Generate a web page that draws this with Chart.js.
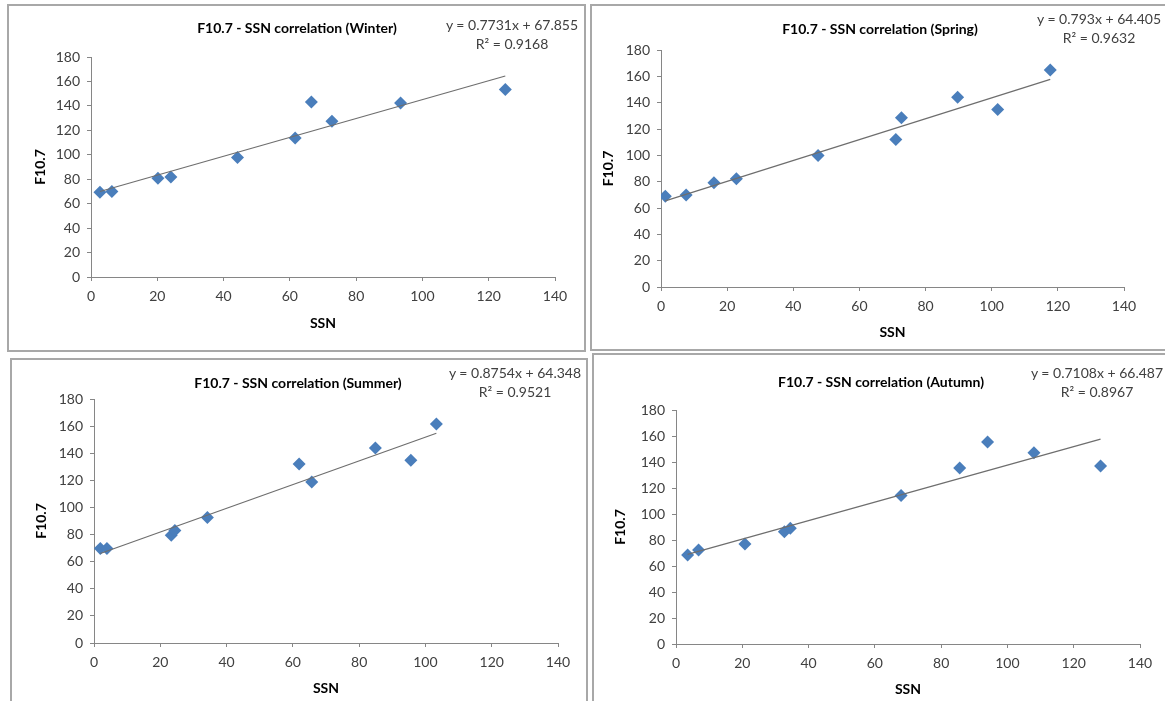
<!DOCTYPE html>
<html>
<head>
<meta charset="utf-8">
<script src="https://cdn.jsdelivr.net/npm/chart.js@4.4.1/dist/chart.umd.min.js"></script>
<style>
body { margin: 0; background: #fff; width: 1165px; height: 701px; overflow: hidden; position: relative; font-family: Lato, sans-serif; }
.frame { position: absolute; border: 2px solid #a8a8a8; box-sizing: border-box; }
canvas { position: absolute; }
.title { position: absolute; font-weight: bold; font-size: 14px; color: #000; transform: translate(-50%, -50%); white-space: nowrap; }
.eq { position: absolute; font-size: 14px; color: #404040; text-align: center; transform: translateX(-50%); white-space: nowrap; line-height: 19px; }
</style>
</head>
<body>
<script>
"use strict";

// values
const seasons = ["Winter", "Spring", "Summer", "Autumn"];

const winterSSN  = [2.7, 6.3, 20.2, 24.1, 44.2, 61.6, 66.5, 72.7, 93.4, 125.0];
const winterF107 = [69.4, 70.0, 80.7, 81.8, 97.8, 113.7, 143.2, 127.5, 142.4, 153.5];

const springSSN  = [1.3, 7.6, 16.0, 22.8, 47.5, 71.0, 72.7, 89.7, 101.8, 117.7];
const springF107 = [69.0, 69.8, 79.2, 82.3, 99.8, 112.0, 128.5, 144.2, 134.8, 164.8];

const summerSSN  = [1.9, 3.9, 23.3, 24.4, 34.2, 61.9, 65.7, 84.9, 95.6, 103.3];
const summerF107 = [69.8, 69.8, 79.5, 83.0, 92.6, 132.0, 118.8, 143.8, 134.9, 161.5];

const autumnSSN  = [3.5, 6.8, 20.8, 32.7, 34.5, 67.9, 85.6, 94.0, 108.0, 128.1];
const autumnF107 = [68.4, 72.4, 76.9, 86.4, 89.0, 114.2, 135.3, 155.3, 147.2, 137.0];

// trendline labels shown on the chart
const slopes = ["0.7731", "0.793", "0.8754", "0.7108"];
const intercepts = ["67.855", "64.405", "64.348", "66.487"];
const rSquared = ["0.9168", "0.9632", "0.9521", "0.8967"];

const xTicks = [0, 140, 20];   // min, max, step
const yTicks = [0, 180, 20];

// panel placement on the page
const panels = [
    { frame: [7, 4, 586, 352],    area: [91, 57, 555, 277],   yTitleX: 40,  xTitleY: 323, title: [297, 27],  eq: [512, 24] },
    { frame: [590, 4, 1172, 351], area: [661, 50, 1124, 287], yTitleX: 608, xTitleY: 332, title: [880, 28],  eq: [1099, 18] },
    { frame: [10, 358, 588, 712], area: [94, 399, 558, 643],  yTitleX: 41,  xTitleY: 688, title: [298, 382], eq: [515, 372] },
    { frame: [592, 353, 1172, 712], area: [676, 410, 1140, 644], yTitleX: 620, xTitleY: 689, title: [881, 381], eq: [1097, 372] }
];

const seriesX = [winterSSN, springSSN, summerSSN, autumnSSN];
const seriesY = [winterF107, springF107, summerF107, autumnF107];

const HALF_LINE = 8.4; // half of 14px * 1.2 line height

function addDiv(cls, text, x, y) {
    const d = document.createElement("div");
    d.className = cls;
    d.innerHTML = text;
    d.style.left = x + "px";
    d.style.top = y + "px";
    document.body.appendChild(d);
    return d;
}

function dibujarPanel(i) {
    const p = panels[i];
    const [fl, ft, fr, fb] = p.frame;
    const [al, at, ar, ab] = p.area;

    const frame = document.createElement("div");
    frame.className = "frame";
    frame.style.left = fl + "px";
    frame.style.top = ft + "px";
    frame.style.width = (fr - fl) + "px";
    frame.style.height = (fb - ft) + "px";
    document.body.appendChild(frame);

    const cl = fl + 2, ct = ft + 2;
    const cw = fr - fl - 4, ch = fb - ft - 4;
    const canvas = document.createElement("canvas");
    canvas.width = cw;
    canvas.height = ch;
    canvas.style.left = cl + "px";
    canvas.style.top = ct + "px";
    document.body.appendChild(canvas);

    const yW = al - p.yTitleX + HALF_LINE;
    const xH = p.xTitleY - ab + HALF_LINE;

    const xs = seriesX[i], ys = seriesY[i];
    const points = xs.map((x, k) => ({ x, y: ys[k] }));
    const m = parseFloat(slopes[i]), b = parseFloat(intercepts[i]);
    const x0 = Math.min(...xs), x1 = Math.max(...xs);
    const trend = [{ x: x0, y: m * x0 + b }, { x: x1, y: m * x1 + b }];

    const tickFont = { family: "Lato", size: 14 };
    const titleFont = { family: "Lato", size: 14, weight: "bold" };
    const gridCfg = { drawOnChartArea: false, drawTicks: true, tickLength: 4, color: "#868686" };
    const borderCfg = { display: true, color: "#868686", width: 1 };

    new Chart(canvas.getContext("2d"), {
        type: "scatter",
        data: {
            datasets: [
                { label: "trend", type: "line", data: trend, borderColor: "#6e6e6e", borderWidth: 1.2,
                  pointRadius: 0, fill: false, order: 0 },
                { label: seasons[i], data: points, pointStyle: "rectRot", pointRadius: 6.5,
                  backgroundColor: "#4a7ebb", borderColor: "#4a7ebb", borderWidth: 0, order: 1 }
            ]
        },
        options: {
            responsive: false,
            animation: false,
            layout: {
                padding: {
                    left: p.yTitleX - HALF_LINE - cl,
                    top: at - ct,
                    right: cl + cw - ar,
                    bottom: ct + ch - p.xTitleY - HALF_LINE
                }
            },
            plugins: { legend: { display: false }, tooltip: { enabled: false } },
            scales: {
                x: {
                    type: "linear", min: xTicks[0], max: xTicks[1],
                    ticks: { stepSize: xTicks[2], color: "#404040", font: tickFont, padding: 7 },
                    grid: gridCfg, border: borderCfg,
                    title: { display: true, text: "SSN", color: "#000", font: titleFont, padding: { top: 0, bottom: 0 } },
                    afterFit: (s) => { s.height = xH; }
                },
                y: {
                    type: "linear", min: yTicks[0], max: yTicks[1],
                    ticks: { stepSize: yTicks[2], color: "#404040", font: tickFont, padding: 7 },
                    grid: gridCfg, border: borderCfg,
                    title: { display: true, text: "F10.7", color: "#000", font: titleFont, padding: { top: 0, bottom: 0 } },
                    afterFit: (s) => { s.width = yW; }
                }
            }
        }
    });

    addDiv("title", "F10.7 - SSN correlation (" + seasons[i] + ")", p.title[0], p.title[1]);
    addDiv("eq", "y = " + slopes[i] + "x + " + intercepts[i] + "<br>R\u00b2 = " + rSquared[i], p.eq[0], p.eq[1] - 9.5);
}

seasons.forEach((s, i) => dibujarPanel(i));
</script>
</body>
</html>
